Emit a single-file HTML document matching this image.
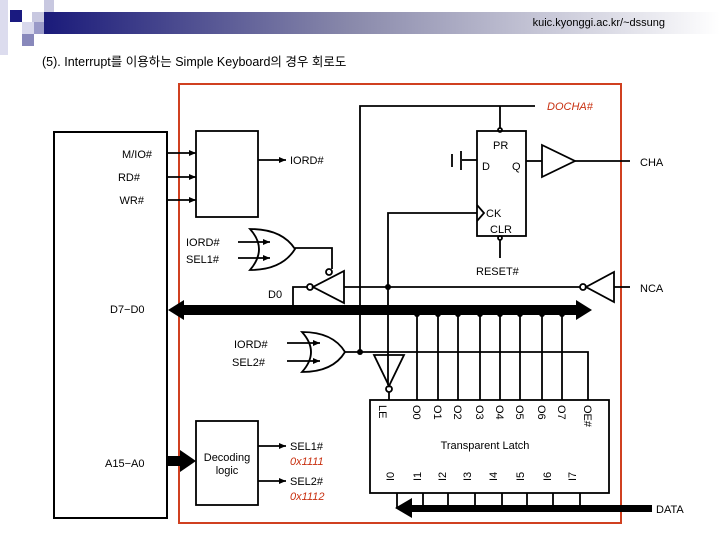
<!DOCTYPE html>
<html><head><meta charset="utf-8"><style>
html,body{margin:0;padding:0;background:#fff;}
svg{display:block;}
text{font-family:"Liberation Sans","Noto Sans CJK KR",sans-serif;font-size:11px;fill:#000;}
</style></head><body>
<svg width="720" height="540" viewBox="0 0 720 540" xmlns="http://www.w3.org/2000/svg">
<defs>
<linearGradient id="g" x1="0" x2="1" y1="0" y2="0">
<stop offset="0" stop-color="#1a1a7a"/><stop offset="0.45" stop-color="#8888aa"/><stop offset="1" stop-color="#ffffff"/>
</linearGradient>
<marker id="a" markerWidth="8" markerHeight="8" refX="7" refY="4" orient="auto" markerUnits="userSpaceOnUse"><path d="M0,1 L7,4 L0,7z" fill="#000"/></marker>
</defs>
<!-- header -->
<rect x="43" y="12" width="677" height="22" fill="url(#g)"/>
<rect x="0" y="0" width="8" height="55" fill="#dcdcee"/>
<rect x="44" y="0" width="10" height="12" fill="#c8c8e0"/>
<rect x="10" y="10" width="12" height="12" fill="#1a1a80"/>
<rect x="32" y="12" width="12" height="10" fill="#c8c8e0"/>
<rect x="22" y="22" width="12" height="12" fill="#d8d8ec"/>
<rect x="34" y="22" width="10" height="12" fill="#9a9ac8"/>
<rect x="22" y="34" width="12" height="12" fill="#8888bb"/>
<text x="665" y="26" text-anchor="end" style="font-size:11px">kuic.kyonggi.ac.kr/~dssung</text>
<text x="42" y="66" style="font-size:12.5px">(5).  Interrupt를 이용하는 Simple Keyboard의 경우 회로도</text>
<!-- orange border -->
<rect x="179" y="84" width="442" height="439" fill="none" stroke="#d04020" stroke-width="2"/>
<g stroke="#000" stroke-width="1.8" fill="none">
<rect x="54" y="132" width="113" height="386" stroke-width="2"/>
<rect x="196" y="131" width="62" height="86"/>
<line x1="167" y1="153" x2="196" y2="153" marker-end="url(#a)"/>
<line x1="167" y1="177" x2="196" y2="177" marker-end="url(#a)"/>
<line x1="167" y1="200" x2="196" y2="200" marker-end="url(#a)"/>
<line x1="258" y1="160" x2="286" y2="160" marker-end="url(#a)"/>
<!-- OR1 -->
<path d="M250,229 Q282,229 295,249 Q282,270 250,270 Q268,249 250,229z"/>
<line x1="238" y1="242" x2="270" y2="242" marker-end="url(#a)"/>
<line x1="238" y1="258" x2="270" y2="258" marker-end="url(#a)"/>
<polyline points="295,248 332,248 332,269"/>
<circle cx="329" cy="272" r="3"/>
<!-- tristate inv 1 -->
<path d="M344,271 L344,303 L313,287z"/>
<circle cx="310" cy="287" r="3"/>
<polyline points="307,287 293,287 293,310"/>
<line x1="344" y1="287" x2="580" y2="287"/>
<!-- NCA inverter -->
<circle cx="583" cy="287" r="3"/>
<path d="M586,287 L614,272 L614,302z"/>
<line x1="614" y1="287" x2="630" y2="287"/>
<!-- CK line -->
<polyline points="388,385 388,213 477,213"/>
<!-- DOCHA line -->
<polyline points="360,352 360,106 535,106"/>
<line x1="500" y1="106" x2="500" y2="128"/>
<circle cx="500" cy="130" r="2"/>
<!-- FF -->
<rect x="477" y="131" width="49" height="105"/>
<polyline points="477,205 484,213 477,221"/>
<circle cx="500" cy="238" r="2"/>
<line x1="500" y1="240" x2="500" y2="258"/>
<line x1="462" y1="160" x2="477" y2="160"/>
<line x1="461" y1="151" x2="461" y2="170"/>
<line x1="452" y1="154" x2="452" y2="167"/>
<line x1="526" y1="161" x2="542" y2="161"/>
<path d="M542,145 L575,161 L542,177z"/>
<line x1="575" y1="161" x2="630" y2="161"/>
<!-- OR2 -->
<path d="M302,332 Q333,332 345,352 Q333,372 302,372 Q320,352 302,332z"/>
<line x1="287" y1="343" x2="320" y2="343" marker-end="url(#a)"/>
<line x1="287" y1="361" x2="320" y2="361" marker-end="url(#a)"/>
<polyline points="345,352 588,352 588,400"/>
<!-- LE inverter -->
<path d="M374,355 L404,355 L389,386z"/>
<circle cx="389" cy="389" r="3"/>
<line x1="389" y1="392" x2="389" y2="400"/>
<!-- latch -->
<rect x="370" y="400" width="239" height="93"/>
<line x1="417" y1="310" x2="417" y2="400"/><line x1="438" y1="310" x2="438" y2="400"/>
<line x1="458" y1="310" x2="458" y2="400"/><line x1="480" y1="310" x2="480" y2="400"/>
<line x1="500" y1="310" x2="500" y2="400"/><line x1="520" y1="310" x2="520" y2="400"/>
<line x1="542" y1="310" x2="542" y2="400"/><line x1="562" y1="310" x2="562" y2="400"/>
<line x1="397" y1="493" x2="397" y2="508"/><line x1="423" y1="493" x2="423" y2="508"/>
<line x1="448" y1="493" x2="448" y2="508"/><line x1="475" y1="493" x2="475" y2="508"/>
<line x1="502" y1="493" x2="502" y2="508"/><line x1="527" y1="493" x2="527" y2="508"/>
<line x1="553" y1="493" x2="553" y2="508"/><line x1="580" y1="493" x2="580" y2="508"/>
<!-- decoding -->
<rect x="196" y="421" width="62" height="84"/>
<line x1="258" y1="446" x2="286" y2="446" marker-end="url(#a)"/>
<line x1="258" y1="481" x2="286" y2="481" marker-end="url(#a)"/>
</g>
<!-- dots -->
<g fill="#000">
<circle cx="293" cy="309" r="3"/><circle cx="388" cy="287" r="3"/><circle cx="360" cy="352" r="3"/>
<circle cx="417" cy="314" r="3"/><circle cx="438" cy="314" r="3"/><circle cx="458" cy="314" r="3"/><circle cx="480" cy="314" r="3"/>
<circle cx="500" cy="314" r="3"/><circle cx="520" cy="314" r="3"/><circle cx="542" cy="314" r="3"/><circle cx="562" cy="314" r="3"/>
<!-- data bus -->
<rect x="178" y="305" width="400" height="10"/>
<path d="M168,310 L184,300 L184,320z"/>
<path d="M592,310 L576,300 L576,320z"/>
<rect x="405" y="505" width="247" height="7"/>
<path d="M395,508 L412,498 L412,518z"/>
<rect x="167" y="456" width="16" height="10"/>
<path d="M196,461 L180,450 L180,472z"/>
</g>
<!-- labels -->
<text x="152" y="158" text-anchor="end">M/IO#</text>
<text x="140" y="181" text-anchor="end">RD#</text>
<text x="144" y="204" text-anchor="end">WR#</text>
<text x="290" y="164">IORD#</text>
<text x="186" y="246">IORD#</text>
<text x="186" y="263">SEL1#</text>
<text x="268" y="298">D0</text>
<text x="110" y="313">D7−D0</text>
<text x="234" y="348">IORD#</text>
<text x="232" y="366">SEL2#</text>
<text x="105" y="467">A15−A0</text>
<text x="227" y="461" text-anchor="middle">Decoding</text>
<text x="227" y="474" text-anchor="middle">logic</text>
<text x="290" y="450">SEL1#</text>
<text x="290" y="465" style="fill:#c83010;font-style:italic">0x1111</text>
<text x="290" y="485">SEL2#</text>
<text x="290" y="500" style="fill:#c83010;font-style:italic">0x1112</text>
<text x="547" y="110" style="fill:#c83010;font-style:italic">DOCHA#</text>
<text x="493" y="149">PR</text>
<text x="482" y="170">D</text>
<text x="512" y="170">Q</text>
<text x="486" y="217">CK</text>
<text x="490" y="233">CLR</text>
<text x="476" y="275">RESET#</text>
<text x="640" y="166">CHA</text>
<text x="640" y="292">NCA</text>
<text x="656" y="513">DATA</text>
<text x="485" y="449" text-anchor="middle">Transparent Latch</text>
<g style="font-size:10px">
<text transform="translate(379,405) rotate(90)">LE</text>
<text transform="translate(413,405) rotate(90)">O0</text>
<text transform="translate(434,405) rotate(90)">O1</text>
<text transform="translate(454,405) rotate(90)">O2</text>
<text transform="translate(476,405) rotate(90)">O3</text>
<text transform="translate(496,405) rotate(90)">O4</text>
<text transform="translate(516,405) rotate(90)">O5</text>
<text transform="translate(538,405) rotate(90)">O6</text>
<text transform="translate(558,405) rotate(90)">O7</text>
<text transform="translate(584,405) rotate(90)">OE#</text>
<text transform="translate(394,481) rotate(-90)">I0</text>
<text transform="translate(421,481) rotate(-90)">I1</text>
<text transform="translate(446,481) rotate(-90)">I2</text>
<text transform="translate(471,481) rotate(-90)">I3</text>
<text transform="translate(497,481) rotate(-90)">I4</text>
<text transform="translate(524,481) rotate(-90)">I5</text>
<text transform="translate(551,481) rotate(-90)">I6</text>
<text transform="translate(576,481) rotate(-90)">I7</text>
</g>
</svg>
</body></html>
